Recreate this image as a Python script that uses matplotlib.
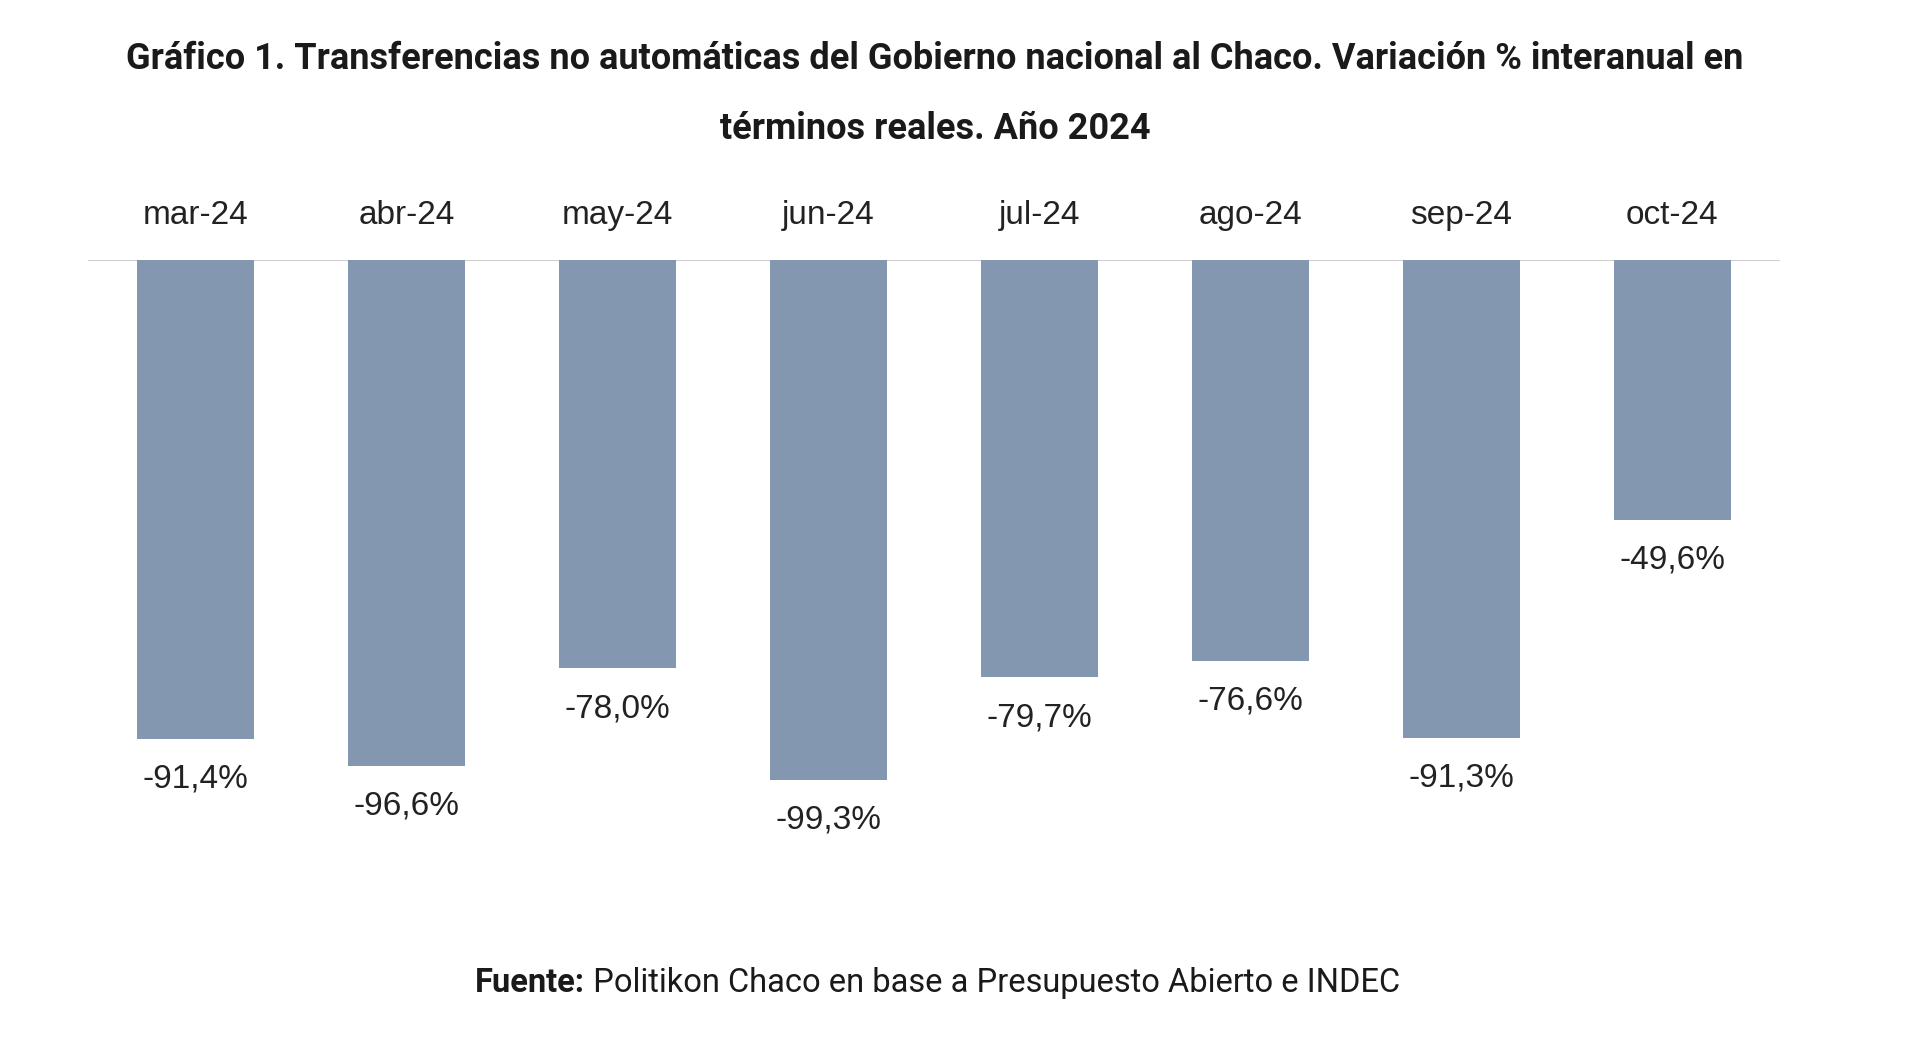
import matplotlib.pyplot as plt
from matplotlib import font_manager

# datos del gráfico
meses = ['mar-24', 'abr-24', 'may-24', 'jun-24', 'jul-24', 'ago-24', 'sep-24', 'oct-24']
variacion = [-91.4, -96.6, -78.0, -99.3, -79.7, -76.6, -91.3, -49.6]

titulo = ['Gráfico 1. Transferencias no automáticas del Gobierno nacional al Chaco. Variación % interanual en',
          'términos reales. Año 2024']
fuente_bold = 'Fuente:'
fuente_txt = ' Politikon Chaco en base a Presupuesto Abierto e INDEC'

nombres = {f.name for f in font_manager.fontManager.ttflist}
narrow = 'Liberation Sans Narrow' if 'Liberation Sans Narrow' in nombres else 'Roboto'

plt.rcParams['font.family'] = ['Liberation Sans', 'DejaVu Sans']

fig = plt.figure(figsize=(19.2, 10.43), dpi=100)
ax = fig.add_axes([88/1920, 1 - 836/1043, (1780-88)/1920, 576/1043])

x = range(len(meses))
ax.bar(x, variacion, width=0.555, color='#8497b0')
ax.axhline(0, color='#d0d0d0', lw=1.5, zorder=0)
ax.set_xlim(-0.51, 7.51)
ax.set_ylim(-110, 0)
ax.axis('off')

for i, (m, v) in enumerate(zip(meses, variacion)):
    ax.annotate(m, (i, 0), xytext=(0, 32), textcoords='offset points',
                ha='center', va='center', fontsize=24, color='#222222')
    lab = f'{v:.1f}%'.replace('.', ',')
    ax.annotate(lab, (i, v), xytext=(0, -29), textcoords='offset points',
                ha='center', va='center', fontsize=24, color='#222222')

fig.text(935/1920, 1 - 59/1043, titulo[0], ha='center', va='center',
         fontsize=26, fontweight='bold', family=[narrow, 'DejaVu Sans'], color='#1a1a1a')
fig.text(935/1920, 1 - 129/1043, titulo[1], ha='center', va='center',
         fontsize=26, fontweight='bold', family=[narrow, 'DejaVu Sans'], color='#1a1a1a')

# pie de fuente: parte en negrita y parte normal
t1 = fig.text(475/1920, 1 - 983/1043, fuente_bold, ha='left', va='center',
              fontsize=23.5, fontweight='bold', family=[narrow, 'DejaVu Sans'], color='#1a1a1a')
fig.canvas.draw()
bb = t1.get_window_extent()
fig.text(bb.x1/1920, 1 - 983/1043, fuente_txt, ha='left', va='center',
         fontsize=23.5, family=[narrow, 'DejaVu Sans'], color='#1a1a1a')

fig.savefig('out.png', dpi=100, facecolor='white')
